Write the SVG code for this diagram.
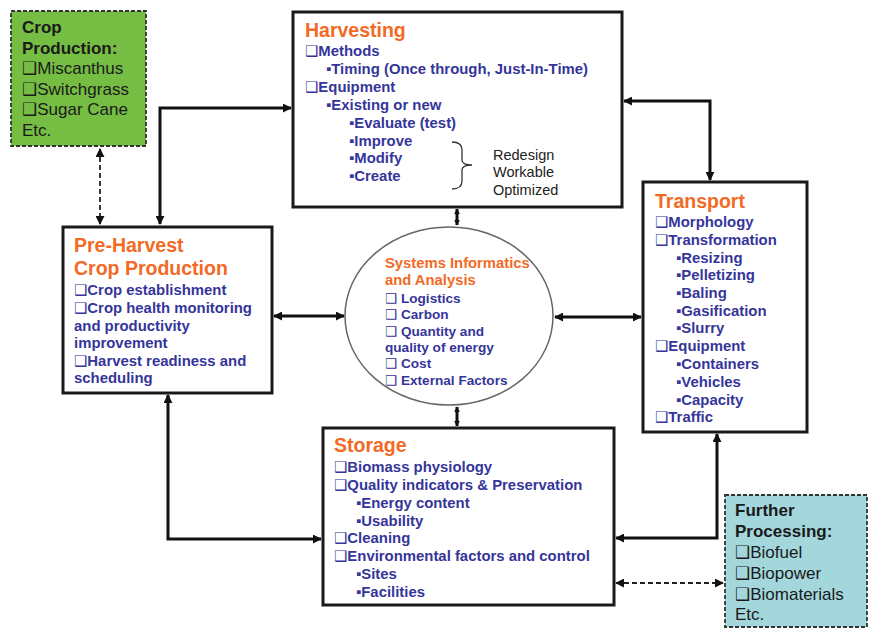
<svg xmlns="http://www.w3.org/2000/svg" width="870" height="630" viewBox="0 0 870 630">
<defs>
<marker id="ah" viewBox="0 0 10 10" refX="9" refY="5" markerWidth="9" markerHeight="9" markerUnits="userSpaceOnUse" orient="auto-start-reverse">
<path d="M0,0 L10,5 L0,10 z" fill="#111"/>
</marker>
<marker id="ahs" viewBox="0 0 10 10" refX="9" refY="5" markerWidth="6" markerHeight="7" markerUnits="userSpaceOnUse" orient="auto-start-reverse">
<path d="M0,0 L10,5 L0,10 z" fill="#111"/>
</marker>
<style>
text{font-family:"Liberation Sans",Arial,"DejaVu Sans",sans-serif}
.box{fill:#fff;stroke:#1a1a1a;stroke-width:3}
.dbox{stroke:#333;stroke-width:1.8;stroke-dasharray:4 2}
.conn{fill:none;stroke:#111;stroke-width:3;marker-start:url(#ah);marker-end:url(#ah)}
.sconn{fill:none;stroke:#111;stroke-width:3;marker-start:url(#ahs);marker-end:url(#ahs)}
.dconn{fill:none;stroke:#222;stroke-width:1.8;stroke-dasharray:5 3;marker-start:url(#ah);marker-end:url(#ah)}
.ttl{fill:#f26a25;font-weight:bold;font-size:19.5px}
.it{fill:#35359a;font-weight:bold;font-size:14.9px}
.eit{fill:#35359a;font-weight:bold;font-size:13.6px}
.ett{fill:#f26a25;font-weight:bold;font-size:14.8px}
.side{fill:#1a1a1a;font-size:17px}
.sideb{fill:#1a1a1a;font-size:17px;font-weight:bold}
.note{fill:#222;font-size:14.5px}
</style>
</defs>
<rect width="870" height="630" fill="#fff"/>

<g id="connectors">
<path class="dconn" d="M100,149 V224"/>
<path class="conn" d="M160,224 V108 H291"/>
<path class="conn" d="M624,101 H710 V180"/>
<path class="sconn" d="M457,209 V225"/>
<path class="sconn" d="M457,407 V426"/>
<path class="conn" d="M274,316 H344"/>
<path class="conn" d="M555,317 H641"/>
<path class="conn" d="M168,395 V539 H321"/>
<path class="conn" d="M717,434 V538 H616"/>
<path class="dconn" d="M616,583 H723"/>
</g>

<g id="crop-production">
<rect x="11" y="11" width="135" height="135" fill="#76bd43" class="dbox"/>
<text x="22" y="33" class="sideb">Crop</text>
<text x="22" y="54" class="sideb">Production:</text>
<text x="22" y="74" class="side">❑Miscanthus</text>
<text x="22" y="95" class="side">❑Switchgrass</text>
<text x="22" y="115" class="side">❑Sugar Cane</text>
<text x="22" y="136" class="side">Etc.</text>
</g>

<g id="harvesting">
<rect x="293" y="12" width="329" height="195" class="box"/>
<text x="305" y="37" class="ttl">Harvesting</text>
<text x="305" y="56" class="it">❑Methods</text>
<text x="326" y="74" class="it">▪Timing (Once through, Just-In-Time)</text>
<text x="305" y="92" class="it">❑Equipment</text>
<text x="326" y="110" class="it">▪Existing or new</text>
<text x="349" y="128" class="it">▪Evaluate (test)</text>
<text x="349" y="146" class="it">▪Improve</text>
<text x="349" y="163" class="it">▪Modify</text>
<text x="349" y="181" class="it">▪Create</text>
<path d="M452,142 Q462,142 462,150 V160 Q462,165 472,165 Q462,165 462,170 V181 Q462,189 452,189" fill="none" stroke="#333" stroke-width="1.3"/>
<text x="493" y="160" class="note">Redesign</text>
<text x="493" y="177" class="note">Workable</text>
<text x="493" y="195" class="note">Optimized</text>
</g>

<g id="pre-harvest">
<rect x="63" y="227" width="209" height="166" class="box"/>
<text x="74" y="252" class="ttl">Pre-Harvest</text>
<text x="74" y="275" class="ttl">Crop Production</text>
<text x="74" y="295" class="it">❑Crop establishment</text>
<text x="74" y="313" class="it">❑Crop health monitoring</text>
<text x="74" y="331" class="it">and productivity</text>
<text x="74" y="348" class="it">improvement</text>
<text x="74" y="366" class="it">❑Harvest readiness and</text>
<text x="74" y="383" class="it">scheduling</text>
</g>

<g id="systems-informatics">
<ellipse cx="449" cy="316" rx="104" ry="89" fill="#fff" stroke="#666" stroke-width="1.5"/>
<text x="385" y="268" class="ett">Systems Informatics</text>
<text x="385" y="285" class="ett">and Analysis</text>
<text x="385" y="303" class="eit">❑ Logistics</text>
<text x="385" y="319" class="eit">❑ Carbon</text>
<text x="385" y="336" class="eit">❑ Quantity and</text>
<text x="385" y="352" class="eit">quality of energy</text>
<text x="385" y="368" class="eit">❑ Cost</text>
<text x="385" y="385" class="eit">❑ External Factors</text>
</g>

<g id="transport">
<rect x="643" y="182" width="164" height="250" class="box"/>
<text x="655" y="208" class="ttl">Transport</text>
<text x="655" y="227" class="it">❑Morphology</text>
<text x="655" y="245" class="it">❑Transformation</text>
<text x="676" y="263" class="it">▪Resizing</text>
<text x="676" y="280" class="it">▪Pelletizing</text>
<text x="676" y="298" class="it">▪Baling</text>
<text x="676" y="316" class="it">▪Gasification</text>
<text x="676" y="333" class="it">▪Slurry</text>
<text x="655" y="351" class="it">❑Equipment</text>
<text x="676" y="369" class="it">▪Containers</text>
<text x="676" y="387" class="it">▪Vehicles</text>
<text x="676" y="405" class="it">▪Capacity</text>
<text x="655" y="422" class="it">❑Traffic</text>
</g>

<g id="storage">
<rect x="323" y="428" width="291" height="177" class="box"/>
<text x="334" y="452" class="ttl">Storage</text>
<text x="334" y="472" class="it">❑Biomass physiology</text>
<text x="334" y="490" class="it">❑Quality indicators &amp; Preservation</text>
<text x="356" y="508" class="it">▪Energy content</text>
<text x="356" y="526" class="it">▪Usability</text>
<text x="334" y="543" class="it">❑Cleaning</text>
<text x="334" y="561" class="it">❑Environmental factors and control</text>
<text x="356" y="579" class="it">▪Sites</text>
<text x="356" y="597" class="it">▪Facilities</text>
</g>

<g id="further-processing">
<rect x="725" y="495" width="142" height="132" fill="#a3d7dc" class="dbox"/>
<text x="735" y="516" class="sideb">Further</text>
<text x="735" y="537" class="sideb">Processing:</text>
<text x="735" y="558" class="side">❑Biofuel</text>
<text x="735" y="579" class="side">❑Biopower</text>
<text x="735" y="600" class="side">❑Biomaterials</text>
<text x="735" y="620" class="side">Etc.</text>
</g>
</svg>
